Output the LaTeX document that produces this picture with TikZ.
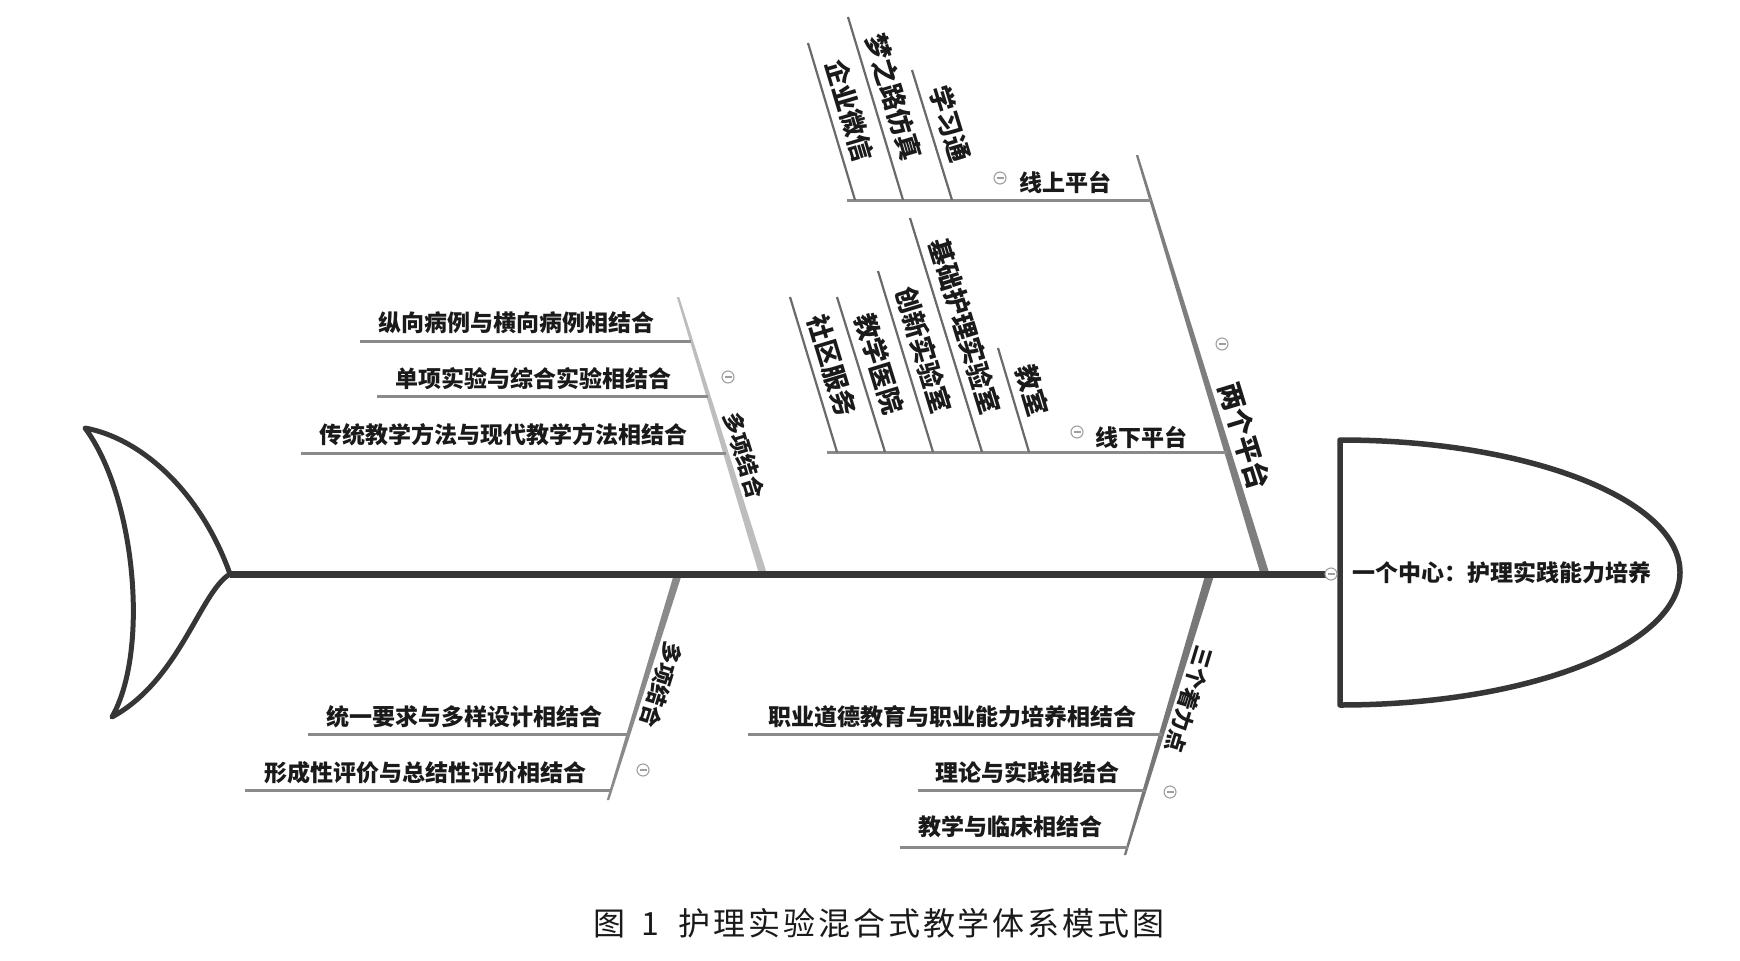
\documentclass[tikz,border=0pt]{standalone}
\usepackage{fontspec}
\setmainfont{Noto Sans CJK SC}
\usetikzlibrary{calc}
\definecolor{spinec}{HTML}{363636}
\definecolor{boneA}{HTML}{7E7E7E}
\definecolor{boneC}{HTML}{BDBDBD}
\definecolor{boneD}{HTML}{8A8A8A}
\definecolor{boneE}{HTML}{777777}
\definecolor{subc}{HTML}{6A6A6A}
\definecolor{horc}{HTML}{8A8A8A}
\definecolor{txt}{HTML}{1A1A1A}
\begin{document}
\begin{tikzpicture}[x=1pt,y=-1pt,
  hlab/.style={font=\fontsize{23}{23}\selectfont\bfseries, text=txt, inner sep=0pt, anchor=east},
  slab/.style={font=\fontsize{26}{26}\selectfont\bfseries, text=txt, inner sep=0pt, sloped, above=7pt},
  blab/.style={font=\fontsize{22}{22}\selectfont\bfseries, text=txt, inner sep=0pt, sloped, allow upside down, above=6pt},
  subline/.style={draw=subc, line width=2.2pt},
  horline/.style={draw=horc, line width=3pt},
  minuscirc/.style={circle, draw=gray!75, fill=white, line width=1.1pt, minimum size=12pt, inner sep=0pt,
    path picture={\draw[gray!75,line width=1.1pt] ([xshift=-3.5pt]path picture bounding box.center) -- ([xshift=3.5pt]path picture bounding box.center);}}
]
\fill[white] (0,0) rectangle (1740,961);
\useasboundingbox (0,0) rectangle (1740,961);

% ---------- coordinates ----------
\coordinate (At) at (1137,155); \coordinate (Ab) at (1265,574);
\coordinate (Ct) at (678,297);  \coordinate (Cb) at (763,574);
\coordinate (Dt) at (678,574);  \coordinate (Db) at (608,800);
\coordinate (Et) at (1210,574); \coordinate (Eb) at (1125,855);

% ---------- bone A : 两个平台 ----------
\fill[boneA] ($(At)+(-1.2,0)$) -- ($(At)+(1.2,0)$) -- ($(Ab)+(4.5,0)$) -- ($(Ab)+(-4.5,0)$) -- cycle;
\path (At) -- (Ab) node[pos=0.685, slab, font=\fontsize{27.5}{27.5}\selectfont\bfseries] (lA) {两个平台};
\node[minuscirc] (mA) at (1222,344) {};

% 线上平台
\coordinate (H1l) at (847,200); \coordinate (H1r) at (1151,200);
\draw[horline] (H1l) -- (H1r);
\node[hlab] (lH1) at (1112,182) {线上平台};
\node[minuscirc] (mH1) at (1000,178) {};
\coordinate (s1t) at (808,43);  \coordinate (s1b) at (855,200);
\coordinate (s2t) at (848,17);  \coordinate (s2b) at (903,200);
\coordinate (s3t) at (912,70);  \coordinate (s3b) at (952,200);
\draw[subline] (s1t) -- (s1b) node[pos=0.47, slab] (ls1) {企业微信};
\draw[subline] (s2t) -- (s2b) node[pos=0.47, slab] (ls2) {梦之路仿真};
\draw[subline] (s3t) -- (s3b) node[pos=0.46, slab] (ls3) {学习通};

% 线下平台
\coordinate (H2l) at (827,452); \coordinate (H2r) at (1227,452);
\draw[horline] (H2l) -- (H2r);
\node[hlab] (lH2) at (1188,437) {线下平台};
\node[minuscirc] (mH2) at (1077,432) {};
\coordinate (t1t) at (790,297);  \coordinate (t1b) at (837,452);
\coordinate (t2t) at (837,297);  \coordinate (t2b) at (885,452);
\coordinate (t3t) at (878,271);  \coordinate (t3b) at (933,452);
\coordinate (t4t) at (910,218);  \coordinate (t4b) at (982,452);
\coordinate (t5t) at (998,348);  \coordinate (t5b) at (1029,452);
\draw[subline] (t1t) -- (t1b) node[pos=0.48, slab] (lt1) {社区服务};
\draw[subline] (t2t) -- (t2b) node[pos=0.47, slab] (lt2) {教学医院};
\draw[subline] (t3t) -- (t3b) node[pos=0.47, slab] (lt3) {创新实验室};
\draw[subline] (t4t) -- (t4b) node[pos=0.49, slab] (lt4) {基础护理实验室};
\draw[subline] (t5t) -- (t5b) node[pos=0.47, slab] (lt5) {教室};

% ---------- bone C : 多项结合 (upper) ----------
\fill[boneC] ($(Ct)+(-1.2,0)$) -- ($(Ct)+(1.2,0)$) -- ($(Cb)+(4,0)$) -- ($(Cb)+(-4,0)$) -- cycle;
\path (Ct) -- (Cb) node[pos=0.59, blab] (lC) {多项结合};
\node[minuscirc] (mC) at (728,377) {};
\coordinate (c1l) at (360,341); \coordinate (c1r) at (691,341);
\coordinate (c2l) at (377,396); \coordinate (c2r) at (708,396);
\coordinate (c3l) at (301,453); \coordinate (c3r) at (726,453);
\draw[horline] (c1l) -- (c1r);
\draw[horline] (c2l) -- (c2r);
\draw[horline] (c3l) -- (c3r);
\node[hlab] (lc1) at (655,323) {纵向病例与横向病例相结合};
\node[hlab] (lc2) at (672,379) {单项实验与综合实验相结合};
\node[hlab] (lc3) at (688,435) {传统教学方法与现代教学方法相结合};

% ---------- bone D : 多项结合 (lower) ----------
\fill[boneD] ($(Dt)+(-4,0)$) -- ($(Dt)+(4,0)$) -- ($(Db)+(1.2,0)$) -- ($(Db)+(-1.2,0)$) -- cycle;
\path (Dt) -- (Db) node[pos=0.47, blab] (lD) {多项结合};
\node[minuscirc] (mD) at (643,770) {};
\coordinate (d1l) at (308,734); \coordinate (d1r) at (628,734);
\coordinate (d2l) at (245,790); \coordinate (d2r) at (611,790);
\draw[horline] (d1l) -- (d1r);
\draw[horline] (d2l) -- (d2r);
\node[hlab] (ld1) at (603,717) {统一要求与多样设计相结合};
\node[hlab] (ld2) at (587,773) {形成性评价与总结性评价相结合};

% ---------- bone E : 三个着力点 ----------
\fill[boneE] ($(Et)+(-4.5,0)$) -- ($(Et)+(4.5,0)$) -- ($(Eb)+(1.2,0)$) -- ($(Eb)+(-1.2,0)$) -- cycle;
\path (Et) -- (Eb) node[pos=0.43, blab] (lE) {三个着力点};
\node[minuscirc] (mE) at (1170,792) {};
\coordinate (e1l) at (748,734); \coordinate (e1r) at (1162,734);
\coordinate (e2l) at (918,790); \coordinate (e2r) at (1145,790);
\coordinate (e3l) at (900,847); \coordinate (e3r) at (1128,847);
\draw[horline] (e1l) -- (e1r);
\draw[horline] (e2l) -- (e2r);
\draw[horline] (e3l) -- (e3r);
\node[hlab] (le1) at (1137,717) {职业道德教育与职业能力培养相结合};
\node[hlab] (le2) at (1120,773) {理论与实践相结合};
\node[hlab] (le3) at (1103,827) {教学与临床相结合};

% ---------- spine ----------
\coordinate (J) at (230,574);
\coordinate (S) at (1330,574);
\draw[spinec, line width=7pt] (J) -- (S);

% ---------- head ----------
\draw[spinec, line width=5.5pt, line join=round]
  (1340,440) arc[start angle=90, end angle=-90, x radius=340pt, y radius=132.5pt] -- cycle;
\node[minuscirc] (mS) at (1331,574) {};
\node[font=\fontsize{23}{23}\selectfont\bfseries, text=txt, inner sep=0pt, anchor=west] (head) at (1352,573) {一个中心：护理实践能力培养};

% ---------- tail ----------
\coordinate (P1) at (85,428);
\coordinate (P2) at (112,717);
\draw[spinec, line width=5pt, line join=round]
  (P1) .. controls (140,438) and (200,490) .. (J)
       .. controls (200,592) and (180,680) .. (P2)
       .. controls (150,650) and (135,495) .. cycle;

% ---------- caption ----------
\node[font=\fontsize{32}{32}\selectfont, text=txt, inner sep=0pt, anchor=west] (cap) at (593,923)
  {\addfontfeature{LetterSpace=9}图\hspace{16pt}1\hspace{20pt}护理实验混合式教学体系模式图};
\end{tikzpicture}
\end{document}
